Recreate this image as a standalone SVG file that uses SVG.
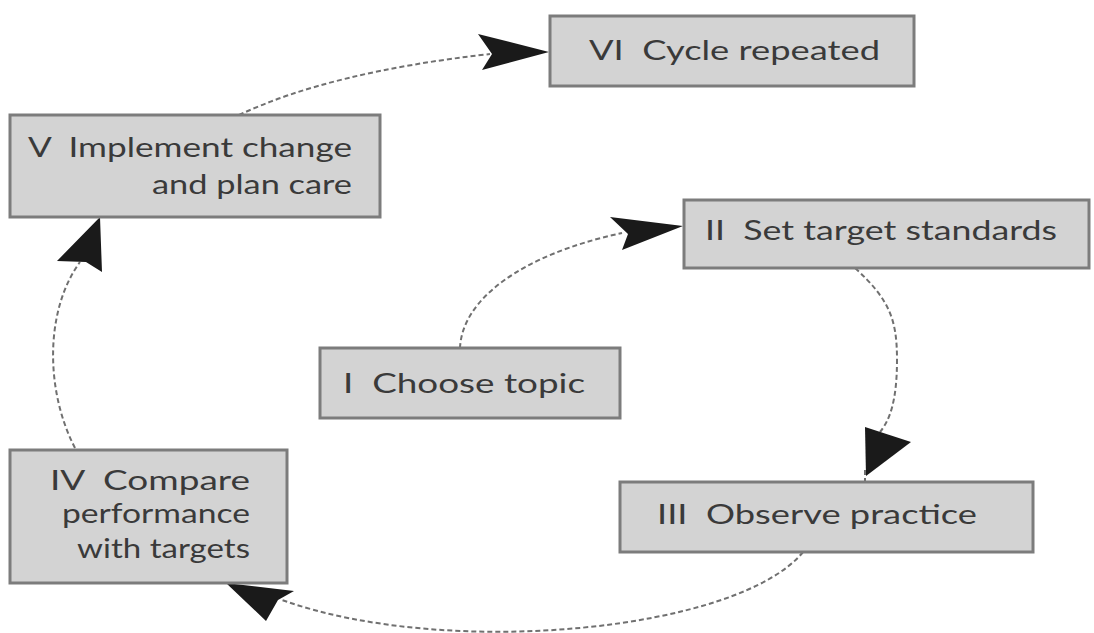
<svg xmlns="http://www.w3.org/2000/svg" width="1094" height="633" viewBox="0 0 1094 633" xml:space="preserve">
<style>
.box{fill:#d3d3d3;stroke:#7c7c7c;stroke-width:3}
.lbl{font-family:Lato,"Open Sans","Liberation Sans",sans-serif;font-size:27px;fill:#3a3a3a;white-space:pre}
.conn{fill:none;stroke:#707070;stroke-width:2;stroke-dasharray:5 3}
.head{fill:#1a1a1a;stroke:none}
</style>
<rect width="1094" height="633" fill="#ffffff"/>
<g id="connectors">
<path class="conn" d="M239,115 Q330,72 490,54"/>
<polygon class="head" points="478,34 549,52 482,70 492,54"/>
<path class="conn" d="M460,348 C462,300 520,255 622,233"/>
<polygon class="head" points="610,217 683,226 622,250 628,234"/>
<path class="conn" d="M855,268 C890,300 897,320 897,360 C897,400 890,420 880,432"/>
<polygon class="head" points="865,427 911,442 866,476"/>
<path class="conn" d="M865,470 L865,481"/>
<path class="conn" d="M803,552 C740,630 450,660 282,600"/>
<polygon class="head" points="226,583 294,591 278,600 266,621"/>
<path class="conn" d="M75,448 C45,390 45,310 80,262"/>
<polygon class="head" points="100,217 102,272 86,262 57,261"/>
</g>
<g id="node-vi">
<rect class="box" x="550" y="16" width="364" height="70"/>
<text class="lbl" x="589" y="60" textLength="291" lengthAdjust="spacingAndGlyphs">VI  Cycle repeated</text>
</g>
<g id="node-v">
<rect class="box" x="10" y="115" width="370" height="102"/>
<text class="lbl" x="28" y="157" textLength="324" lengthAdjust="spacingAndGlyphs">V  Implement change</text>
<text class="lbl" x="152" y="194" textLength="200" lengthAdjust="spacingAndGlyphs">and plan care</text>
</g>
<g id="node-ii">
<rect class="box" x="684" y="200" width="405" height="68"/>
<text class="lbl" x="705" y="240" textLength="352" lengthAdjust="spacingAndGlyphs">II  Set target standards</text>
</g>
<g id="node-i">
<rect class="box" x="320" y="348" width="300" height="70"/>
<text class="lbl" x="343" y="393" textLength="242" lengthAdjust="spacingAndGlyphs">I  Choose topic</text>
</g>
<g id="node-iii">
<rect class="box" x="620" y="482" width="413" height="70"/>
<text class="lbl" x="657" y="524" textLength="320" lengthAdjust="spacingAndGlyphs">III  Observe practice</text>
</g>
<g id="node-iv">
<rect class="box" x="10" y="450" width="277" height="133"/>
<text class="lbl" x="50" y="490" textLength="200" lengthAdjust="spacingAndGlyphs">IV  Compare</text>
<text class="lbl" x="62" y="523" textLength="188" lengthAdjust="spacingAndGlyphs">performance</text>
<text class="lbl" x="77" y="558" textLength="173" lengthAdjust="spacingAndGlyphs">with targets</text>
</g>
</svg>
